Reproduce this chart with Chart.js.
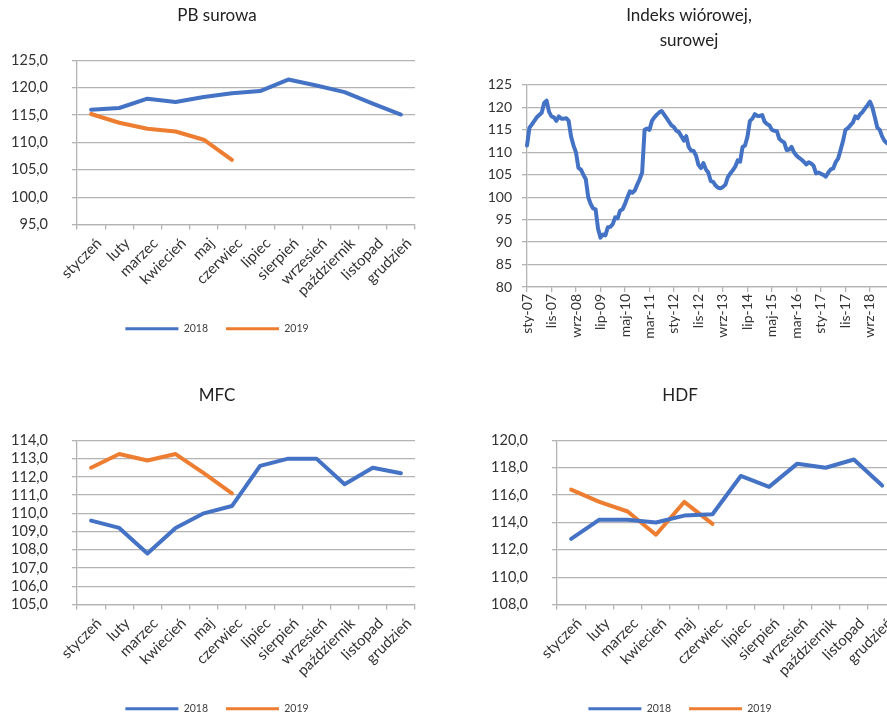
<!DOCTYPE html>
<html lang="pl">
<head>
<meta charset="utf-8">
<title>Indeksy cen płyt</title>
<script src="https://cdn.jsdelivr.net/npm/chart.js@4.4.1/dist/chart.umd.min.js"></script>
<style>
  html, body { margin: 0; padding: 0; background: #fff; }
  body { position: relative; width: 887px; height: 716px; overflow: hidden; }
  canvas { position: absolute; }
  #pb { left: 0; top: 0; }
  #indeks { left: 486px; top: 0; }
  #mfc { left: 0; top: 380px; }
  #hdf { left: 460px; top: 380px; }
</style>
</head>
<body>
<canvas id="pb" width="434" height="350"></canvas>
<canvas id="indeks" width="418" height="350"></canvas>
<canvas id="mfc" width="434" height="350"></canvas>
<canvas id="hdf" width="440" height="350"></canvas>
<script>
// month names on the category axis of the three yearly charts
const MONTHS = ['styczeń', 'luty', 'marzec', 'kwiecień', 'maj', 'czerwiec', 'lipiec',
  'sierpień', 'wrzesień', 'październik', 'listopad', 'grudzień'];

const PB_2018 = [116.0, 116.3, 118.0, 117.4, 118.3, 119.0, 119.4, 121.5, 120.4, 119.2, 117.1, 115.1];
const PB_2019 = [115.2, 113.6, 112.5, 112.0, 110.5, 106.8];

const MFC_2018 = [109.6, 109.2, 107.8, 109.2, 110.0, 110.4, 112.6, 113.0, 113.0, 111.6, 112.5, 112.2];
const MFC_2019 = [112.5, 113.25, 112.9, 113.25, 112.2, 111.1];

const HDF_2018 = [112.8, 114.2, 114.2, 114.0, 114.5, 114.6, 117.4, 116.6, 118.3, 118.0, 118.6, 116.7];
const HDF_2019 = [116.4, 115.5, 114.8, 113.1, 115.5, 113.9];

// monthly index from sty-07, one value per month
const INDEKS_MONTH_ABBR = ['sty', 'lut', 'mar', 'kwi', 'maj', 'cze', 'lip', 'sie', 'wrz', 'paź', 'lis', 'gru'];
const INDEKS_YEARS = ['07', '08', '09', '10', '11', '12', '13', '14', '15', '16', '17', '18', '19'];
const INDEKS_VALUES = [
  111.5, 115.5, 116.2, 117.0, 117.8, 118.3, 118.8, 121.0, 121.5, 119.0, 118.0, 117.8,
  117.0, 118.0, 117.5, 117.5, 117.6, 117.0, 113.5, 111.5, 110.0, 106.5, 106.2, 105.0,
  104.0, 100.0, 98.5, 97.5, 97.3, 93.0, 91.0, 91.7, 91.5, 93.3, 93.4, 94.0,
  95.5, 95.3, 97.0, 97.3, 98.5, 100.0, 101.3, 101.0, 101.5, 102.8, 104.0, 105.5,
  115.0, 115.3, 115.0, 117.0, 117.8, 118.4, 118.9, 119.2, 118.4, 117.6, 116.8, 116.0,
  115.6, 114.8, 114.5, 113.6, 112.6, 113.6, 111.2, 110.4, 110.3, 109.3, 107.2, 106.5,
  107.6, 106.2, 105.5, 103.6, 103.4, 102.6, 102.1, 102.0, 102.3, 102.8, 104.5, 105.3,
  106.0, 106.8, 108.2, 107.9, 111.2, 111.5, 113.5, 117.0, 117.5, 118.5, 118.1, 118.1,
  118.3, 116.8, 116.3, 116.0, 115.0, 114.8, 114.7, 113.0, 112.5, 112.2, 110.5, 110.6,
  111.2, 110.0, 109.3, 108.8, 108.4, 107.9, 107.3, 107.8, 107.5, 107.0, 105.3, 105.5,
  105.2, 105.0, 104.6, 105.5, 106.2, 106.4, 107.8, 108.6, 110.5, 112.5, 115.0, 115.4,
  116.0, 116.6, 118.0, 117.6, 118.5, 119.0, 119.8, 120.5, 121.3, 120.0, 117.8, 115.5,
  115.0, 113.5, 112.5, 112.0
];
const INDEKS_LAST_MONTH = 'cze-19';

const BLUE = '#4472c4';
const ORANGE = '#ed7d31';
const GRID = '#b3b3b3';
const TEXT = '#333333';

Chart.defaults.font.family = "Lato, 'Open Sans', sans-serif";
Chart.defaults.color = TEXT;
Chart.defaults.animation = false;

const indeksLabels = [];
outer:
for (const yy of INDEKS_YEARS) {
  for (const m of INDEKS_MONTH_ABBR) {
    const lbl = m + '-' + yy;
    indeksLabels.push(lbl);
    if (lbl === INDEKS_LAST_MONTH) break outer;
  }
}

function commaFmt(v) {
  return v.toFixed(1).replace('.', ',');
}

function lineSet(label, data, color) {
  return {
    label: label,
    data: data,
    borderColor: color,
    backgroundColor: color,
    borderWidth: 4,
    pointRadius: 0,
    pointHoverRadius: 0,
    tension: 0,
    fill: false,
    borderJoinStyle: 'round',
    borderCapStyle: 'round'
  };
}

// yearly chart: 2018 vs 2019
function yearChart(id, cfg) {
  return new Chart(document.getElementById(id), {
    type: 'line',
    data: {
      labels: MONTHS,
      datasets: [
        lineSet('2018', cfg.a, BLUE),
        lineSet('2019', cfg.b, ORANGE)
      ]
    },
    options: {
      responsive: false,
      layout: { padding: { top: 0, left: 0, right: 0, bottom: 6 } },
      scales: {
        x: {
          offset: true,
          grid: { offset: true, drawOnChartArea: false, tickLength: 5, color: GRID, lineWidth: 1.3 },
          border: { color: GRID, width: 1.3 },
          ticks: { minRotation: 45, maxRotation: 45, autoSkip: false, padding: 5, labelOffset: 8, font: { size: 15 } },
          afterFit: (s) => { s.height = 81; }
        },
        y: {
          min: cfg.min,
          max: cfg.max,
          ticks: { stepSize: cfg.step, autoSkip: false, padding: 24, font: { size: 14.5 }, callback: commaFmt },
          grid: { color: GRID, lineWidth: 1.3, tickLength: 5 },
          border: { color: GRID, width: 1.3 },
          afterFit: (s) => { s.width = cfg.yWidth; }
        },
        // empty right-hand strip, keeps title and legend centred on the whole canvas
        spacer: {
          position: 'right',
          display: true,
          ticks: { display: false },
          grid: { display: false },
          border: { display: false },
          afterFit: (s) => { s.width = cfg.padRight; }
        }
      },
      plugins: {
        title: {
          display: true,
          text: cfg.title,
          color: '#222',
          font: { size: 17, weight: 'normal' },
          padding: { top: 5, bottom: 35 }
        },
        legend: {
          position: 'bottom',
          labels: {
            boxWidth: 53,
            boxHeight: 3,
            padding: 18,
            color: '#404040',
            font: { size: 10.5 },
            generateLabels: (chart) => {
              const items = Chart.defaults.plugins.legend.labels.generateLabels(chart);
              items.forEach(it => { it.lineWidth = 0; });
              return items;
            }
          }
        },
        tooltip: { enabled: false }
      }
    }
  });
}

yearChart('pb', { title: 'PB surowa', a: PB_2018, b: PB_2019, min: 95, max: 125, step: 5, yWidth: 77, padRight: 19 });
yearChart('mfc', { title: 'MFC', a: MFC_2018, b: MFC_2019, min: 105, max: 114, step: 1, yWidth: 77, padRight: 19 });
yearChart('hdf', { title: 'HDF', a: HDF_2018, b: HDF_2019, min: 108, max: 120, step: 2, yWidth: 97, padRight: 3 });

// long monthly index
new Chart(document.getElementById('indeks'), {
  type: 'line',
  data: {
    labels: indeksLabels,
    datasets: [lineSet('Indeks', INDEKS_VALUES, BLUE)]
  },
  options: {
    responsive: false,
    layout: { padding: { top: 0, left: 0, right: 12, bottom: 0 } },
    scales: {
      x: {
        offset: false,
        grid: { drawOnChartArea: false, tickLength: 5, color: GRID, lineWidth: 1.3 },
        border: { color: GRID, width: 1.3 },
        ticks: {
          minRotation: 90,
          maxRotation: 90,
          autoSkip: false,
          padding: 2,
          font: { size: 14 },
          callback: function (v, i) {
            return i % 10 === 0 ? this.getLabelForValue(v) : null;
          }
        },
        afterFit: (s) => { s.height = 63; }
      },
      y: {
        min: 80,
        max: 125,
        ticks: { stepSize: 5, padding: 10, font: { size: 14 } },
        grid: { color: GRID, lineWidth: 1.3, tickLength: 5 },
        border: { color: GRID, width: 1.3 },
        afterFit: (s) => { s.width = 41; }
      }
    },
    plugins: {
      title: {
        display: true,
        text: ['Indeks wiórowej,', 'surowej'],
        color: '#222',
        font: { size: 17, weight: 'normal', lineHeight: 1.47 },
        padding: { top: 3, bottom: 32 }
      },
      legend: { display: false },
      tooltip: { enabled: false }
    }
  }
});
</script>
</body>
</html>
